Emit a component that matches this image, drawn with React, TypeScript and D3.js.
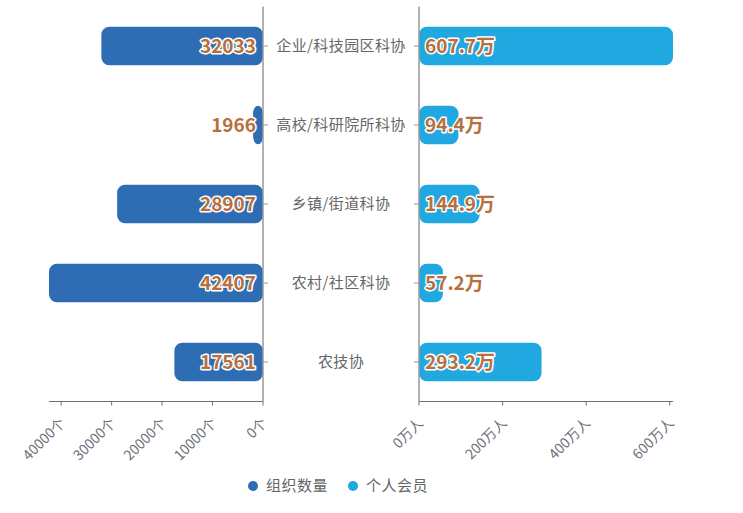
import { useEffect, useRef } from "react";
import * as d3 from "d3";

const categories = ["企业/科技园区科协", "高校/科研院所科协", "乡镇/街道科协", "农村/社区科协", "农技协"];
const orgCounts = [32033, 1966, 28907, 42407, 17561];
const members = [607.7, 94.4, 144.9, 57.2, 293.2];
const leftTicks = [0, 10000, 20000, 30000, 40000];
const rightTicks = [0, 200, 400, 600];
const seriesNames = ["组织数量", "个人会员"];
const seriesColors = ["#2e6db4", "#21a8e0"];

const WIDTH = 743;
const HEIGHT = 513;
const FONT = "'Noto Sans CJK SC', 'Noto Sans', sans-serif";

export default function App() {
  const svgRef = useRef<SVGSVGElement>(null);

  useEffect(() => {
    if (!svgRef.current) return;
    const svg = d3.select(svgRef.current);
    svg.selectAll("*").remove();

    const top = 6.5;
    const bottom = 401.5;
    const leftZero = 263;
    const rightZero = 419;

    const y = d3.scaleBand<string>()
      .domain(categories)
      .range([top, bottom])
      .paddingInner(0.51)
      .paddingOuter(0.255);

    const xL = d3.scaleLinear().domain([0, d3.max(orgCounts)!]).range([leftZero, 49]);
    const xR = d3.scaleLinear().domain([0, d3.max(members)!]).range([rightZero, 673]);

    const axisColor = "#6e7079";
    const labelColor = "#b5703e";

    // Left bars
    svg.append("g")
      .selectAll("rect")
      .data(orgCounts)
      .join("rect")
      .attr("x", d => xL(d))
      .attr("y", (_, i) => y(categories[i])!)
      .attr("width", d => leftZero - xL(d))
      .attr("height", y.bandwidth())
      .attr("rx", 8)
      .attr("ry", 8)
      .attr("fill", seriesColors[0]);

    // Right bars
    svg.append("g")
      .selectAll("rect")
      .data(members)
      .join("rect")
      .attr("x", rightZero)
      .attr("y", (_, i) => y(categories[i])!)
      .attr("width", d => xR(d) - rightZero)
      .attr("height", y.bandwidth())
      .attr("rx", 8)
      .attr("ry", 8)
      .attr("fill", seriesColors[1]);

    // Vertical category axes
    [leftZero, rightZero].forEach((x, k) => {
      svg.append("line")
        .attr("x1", x).attr("x2", x)
        .attr("y1", top).attr("y2", bottom)
        .attr("stroke", "#999")
        .attr("stroke-width", 1.5);
      categories.forEach(c => {
        const cy = y(c)! + y.bandwidth() / 2;
        svg.append("line")
          .attr("x1", x).attr("x2", k === 0 ? x + 5 : x - 5)
          .attr("y1", cy).attr("y2", cy)
          .attr("stroke", "#999");
      });
    });

    // Category labels
    svg.append("g")
      .selectAll("text")
      .data(categories)
      .join("text")
      .attr("x", (leftZero + rightZero) / 2)
      .attr("y", c => y(c)! + y.bandwidth() / 2)
      .attr("dy", "0.35em")
      .attr("text-anchor", "middle")
      .attr("fill", "#666")
      .attr("font-family", FONT)
      .attr("font-size", 15)
      .attr("letter-spacing", 0.4)
      .text(c => c);

    // Value labels
    const valueLabel = (sel: d3.Selection<SVGTextElement, number, SVGGElement, unknown>) =>
      sel
        .attr("y", (_, i) => y(categories[i])! + y.bandwidth() / 2)
        .attr("dy", "0.36em")
        .attr("fill", labelColor)
        .attr("stroke", "#fff")
        .attr("stroke-width", 3)
        .attr("stroke-linejoin", "round")
        .attr("paint-order", "stroke")
        .attr("font-family", FONT)
        .attr("font-weight", "bold")
        .attr("font-size", 19);

    svg.append("g")
      .selectAll("text")
      .data(orgCounts)
      .join("text")
      .call(valueLabel)
      .attr("x", leftZero - 7)
      .attr("text-anchor", "end")
      .text(d => `${d}`);

    svg.append("g")
      .selectAll("text")
      .data(members)
      .join("text")
      .call(valueLabel)
      .attr("x", rightZero + 6)
      .attr("text-anchor", "start")
      .text(d => `${d}万`);

    // Bottom value axes
    const drawAxis = (scale: d3.ScaleLinear<number, number>, ticks: number[], fmt: (d: number) => string) => {
      const [r0, r1] = scale.range();
      const g = svg.append("g");
      g.append("line")
        .attr("x1", Math.min(r0, r1)).attr("x2", Math.max(r0, r1))
        .attr("y1", bottom).attr("y2", bottom)
        .attr("stroke", axisColor)
        .attr("stroke-width", 1.2);
      ticks.forEach(t => {
        const x = scale(t);
        g.append("line")
          .attr("x1", x).attr("x2", x)
          .attr("y1", bottom).attr("y2", bottom + 4)
          .attr("stroke", axisColor);
        g.append("text")
          .attr("transform", `translate(${x + 1.5},${bottom + 19}) rotate(-45)`)
          .attr("dy", "0.35em")
          .attr("text-anchor", "end")
          .attr("fill", axisColor)
          .attr("font-family", FONT)
          .attr("font-size", 14)
          .text(fmt(t));
      });
    };
    drawAxis(xL, leftTicks, d => `${d}个`);
    drawAxis(xR, rightTicks, d => `${d}万人`);

    // Legend
    const legend = svg.append("g").attr("transform", "translate(0,486)");
    const legendX = [253, 353];
    seriesNames.forEach((name, i) => {
      legend.append("circle")
        .attr("cx", legendX[i])
        .attr("cy", 0)
        .attr("r", 5)
        .attr("fill", seriesColors[i]);
      legend.append("text")
        .attr("x", legendX[i] + 13)
        .attr("y", 0)
        .attr("dy", "0.35em")
        .attr("fill", "#666")
        .attr("font-family", FONT)
        .attr("font-size", 15)
        .attr("letter-spacing", 0.5)
        .text(name);
    });
  }, []);

  return (
    <svg
      ref={svgRef}
      width={WIDTH}
      height={HEIGHT}
      style={{ position: "absolute", left: 0, top: 0, background: "#fff" }}
    />
  );
}
